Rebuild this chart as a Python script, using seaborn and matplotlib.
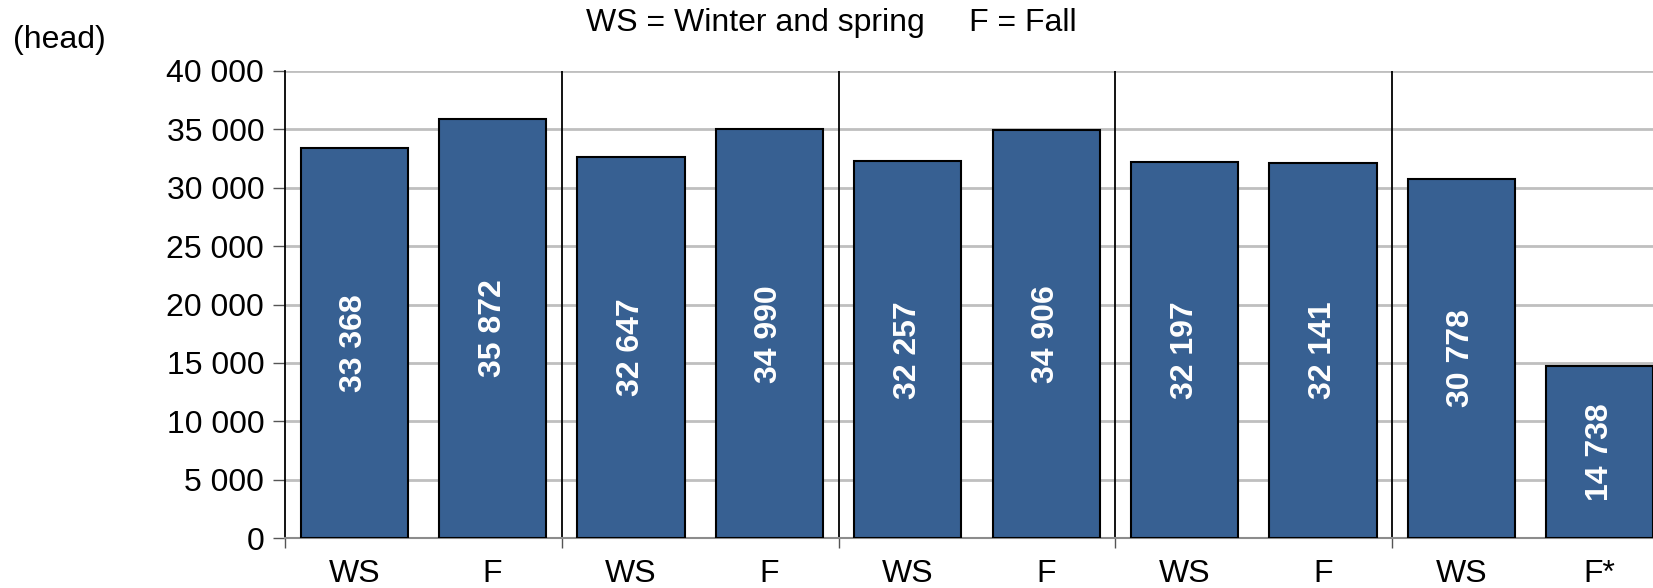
import matplotlib
matplotlib.use("Agg")
import matplotlib.pyplot as plt
import seaborn as sns
import pandas as pd
from matplotlib.ticker import FuncFormatter, FixedLocator

season_labels = ["WS", "F", "WS", "F", "WS", "F", "WS", "F", "WS", "F*"]
head_counts = [33368, 35872, 32647, 34990, 32257, 34906, 32197, 32141, 30778, 14738]
y_ticks = [0, 5000, 10000, 15000, 20000, 25000, 30000, 35000, 40000]
legend_text = "WS = Winter and spring     F = Fall"
unit_text = "(head)"

bar_color = "#376092"
grid_color = "#BFBFBF"
FS = 23

sns.set_theme(style="white")
plt.rcParams["font.family"] = ["Liberation Sans", "DejaVu Sans"]

def fmt(v):
    return f"{int(v):,}".replace(",", " ")

df = pd.DataFrame({"slot": [str(i) for i in range(len(head_counts))],
                   "value": head_counts})

fig = plt.figure(figsize=(16.53, 5.88), dpi=100)
ax = fig.add_axes([285 / 1653, 50 / 588, 1384 / 1653, 467 / 588])

sns.barplot(data=df, x="slot", y="value", color=bar_color, saturation=1,
            width=0.775, edgecolor="black", linewidth=1.5, ax=ax, zorder=3)

ax.set_ylim(0, 40000)
ax.set_xlim(-0.5, len(head_counts) - 0.5)
ax.yaxis.set_major_locator(FixedLocator(y_ticks))
ax.yaxis.set_major_formatter(FuncFormatter(lambda v, p: fmt(v)))
ax.yaxis.grid(True, color=grid_color, linewidth=2, zorder=0)
ax.set_axisbelow(True)

# group separators
n_groups = len(head_counts) // 2
for g in range(1, n_groups):
    ax.axvline(2 * g - 0.5, color="black", linewidth=1.3, zorder=2)

for s in ["top", "right"]:
    ax.spines[s].set_visible(False)
ax.spines["left"].set_color("black")
ax.spines["left"].set_linewidth(1.3)
ax.spines["bottom"].set_color("#8C8C8C")
ax.spines["bottom"].set_linewidth(1.5)

ax.set_xticks(range(len(season_labels)))
ax.set_xticklabels(season_labels)
ax.set_xticks([2 * g - 0.5 for g in range(n_groups + 1)], minor=True)
ax.tick_params(axis="x", which="major", length=0, pad=15, labelsize=FS,
               labelcolor="black")
ax.tick_params(axis="x", which="minor", length=7, width=1, color="#555555",
               direction="out", bottom=True)
ax.tick_params(axis="y", which="major", length=9, width=1, color="#555555",
               direction="out", left=True, pad=6, labelsize=FS,
               labelcolor="black")
ax.set_xlabel("")
ax.set_ylabel("")

for i, v in enumerate(head_counts):
    ax.text(i, v / 2, fmt(v), rotation=90, ha="center", va="center",
            color="white", fontsize=FS, fontweight="bold", zorder=5)

fig.text(831 / 1653, 1 - 23 / 588, legend_text, ha="center", va="center",
         fontsize=FS, color="black")
fig.text(13 / 1653, 1 - 40 / 588, unit_text, ha="left", va="center",
         fontsize=FS, color="black")

fig.savefig("out.png", dpi=100)
